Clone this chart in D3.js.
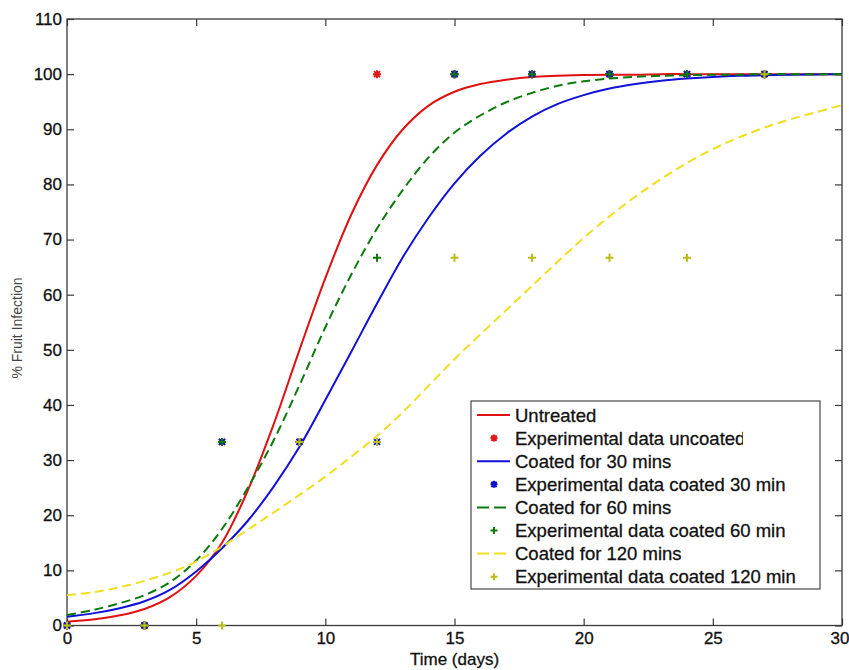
<!DOCTYPE html>
<html>
<head>
<meta charset="utf-8">
<script src="https://cdn.jsdelivr.net/npm/d3@7"></script>
<style>
  body { margin: 0; background: #fff; }
  text { font-family: "Liberation Sans", Arial, Helvetica, sans-serif; }
</style>
</head>
<body>
<svg id="chart" width="849" height="670"></svg>
<script>
// model curves, one value per day (0..30)
var days = d3.range(0, 31);
var untreated = [0.7, 1.1, 1.8, 3, 5.2, 9, 15, 24.5, 36.5, 50, 63, 74.5, 83.5, 90, 94.3, 96.8,
                 98.2, 99, 99.5, 99.7, 99.85, 99.9, 99.9, 100, 100, 100, 100, 100, 100, 100, 100];
var coated30 = [1.6, 2.2, 3.1, 4.4, 6.5, 9.8, 14, 19, 25.2, 32.4, 40.9, 49.6, 58.4, 66.8, 74, 80.2,
                85.2, 89.2, 92.3, 94.6, 96.2, 97.4, 98.2, 98.8, 99.2, 99.5, 99.7, 99.8, 99.9, 99.95, 100];
var coated60 = [1.9, 2.8, 4, 5.5, 7.9, 11.8, 17.5, 25, 33.6, 43.6, 54.1, 63.6, 72, 79, 84.9, 89.4,
                92.5, 94.9, 96.6, 97.9, 98.7, 99.2, 99.5, 99.7, 99.8, 99.9, 99.9, 100, 100, 100, 100];
var coated120 = [5.5, 6, 6.9, 8.1, 9.6, 11.6, 14.3, 17.4, 20.5, 23.7, 27, 30.6, 34.4, 38.7, 43.5, 48.3,
                 52.8, 57.2, 61.6, 66, 70.3, 74.2, 77.8, 81, 83.9, 86.4, 88.5, 90.3, 91.8, 93.1, 94.4];

// experimental observations (every 3 days)
var obsDays = [0, 3, 6, 9, 12, 15, 18, 21, 24, 27];
var obsUncoated = [0, 0, 33.3, 33.3, 100, 100, 100, 100, 100, 100];
var obs30 = [0, 0, 33.3, 33.3, 33.3, 100, 100, 100, 100, 100];
var obs60 = [0, 0, 33.3, 33.3, 66.7, 100, 100, 100, 100, 100];
var obs120 = [0, 0, 0, 33.3, 33.3, 66.7, 66.7, 66.7, 66.7, 100];

var xTicks = [0, 5, 10, 15, 20, 25, 30];
var yTicks = [0, 10, 20, 30, 40, 50, 60, 70, 80, 90, 100, 110];

var legendLabels = ['Untreated', 'Experimental data uncoated', 'Coated for 30 mins',
  'Experimental data coated 30 min', 'Coated for 60 mins', 'Experimental data coated 60 min',
  'Coated for 120 mins', 'Experimental data coated 120 min'];

var series = [
  {curve: untreated, obs: obsUncoated, line: '#e01010', dash: null, mark: '#e01818', shape: 'star'},
  {curve: coated30, obs: obs30, line: '#1010d8', dash: null, mark: '#1010c8', shape: 'star'},
  {curve: coated60, obs: obs60, line: '#0a7a0a', dash: '9,5', mark: '#0a7a0a', shape: 'plus'},
  {curve: coated120, obs: obs120, line: '#f0de20', dash: '9,5', mark: '#bcbc18', shape: 'plus'}
];

var svg = d3.select('#chart');
var x = d3.scaleLinear().domain([0, 30]).range([67, 842]);
var y = d3.scaleLinear().domain([0, 110]).range([625.5, 19]);

function markerPath(shape, r) {
  var p = 'M' + (-r) + ',0H' + r + 'M0,' + (-r) + 'V' + r;
  if (shape === 'star') {
    var q = r * 0.75;
    p += 'M' + (-q) + ',' + (-q) + 'L' + q + ',' + q + 'M' + (-q) + ',' + q + 'L' + q + ',' + (-q);
  }
  return p;
}

// axes box
var axisColor = '#3a3a3a';
svg.append('rect')
  .attr('x', x(0)).attr('y', y(110))
  .attr('width', x(30) - x(0)).attr('height', y(0) - y(110))
  .attr('fill', 'none').attr('stroke', axisColor).attr('stroke-width', 1.3);

function styleAxis(g) {
  g.select('.domain').remove();
  g.selectAll('.tick line').attr('stroke', axisColor).attr('stroke-width', 1.2);
  g.selectAll('.tick text').attr('fill', '#111').style('font-size', '17px')
    .attr('stroke', '#111').attr('stroke-width', 0.3);
}

var bottom = svg.append('g').attr('transform', 'translate(0,' + y(0) + ')')
  .call(d3.axisBottom(x).tickValues(xTicks).tickSize(-7).tickPadding(6).tickFormat(d3.format('d')))
  .call(styleAxis);
// last label sits against the window edge
bottom.selectAll('.tick text').filter(function (d) { return d === 30; })
  .attr('text-anchor', 'end').attr('x', 849 - x(30));

svg.append('g').attr('transform', 'translate(0,' + y(110) + ')')
  .call(d3.axisTop(x).tickValues(xTicks).tickSize(-7).tickFormat(''))
  .call(styleAxis);
svg.append('g').attr('transform', 'translate(' + x(0) + ',0)')
  .call(d3.axisLeft(y).tickValues(yTicks).tickSize(-7).tickPadding(5).tickFormat(d3.format('d')))
  .call(styleAxis);
svg.append('g').attr('transform', 'translate(' + x(30) + ',0)')
  .call(d3.axisRight(y).tickValues(yTicks).tickSize(-7).tickFormat(''))
  .call(styleAxis);

// axis titles
svg.append('text')
  .attr('x', (x(0) + x(30)) / 2).attr('y', 665)
  .attr('text-anchor', 'middle').style('font-size', '17px').attr('fill', '#111')
  .attr('stroke', '#111').attr('stroke-width', 0.3)
  .text('Time (days)');
svg.append('text')
  .attr('transform', 'translate(22,' + 328 + ') rotate(-90)')
  .attr('text-anchor', 'middle').style('font-size', '14px').attr('fill', '#444')
  .text('% Fruit Infection');

// curves and points
var plot = svg.append('g');
var line = d3.line()
  .x(function (d, i) { return x(days[i]); })
  .y(function (d) { return y(d); })
  .curve(d3.curveCatmullRom.alpha(0.5));

series.forEach(function (s) {
  plot.append('path')
    .attr('d', line(s.curve))
    .attr('fill', 'none')
    .attr('stroke', s.line)
    .attr('stroke-width', 2)
    .attr('stroke-dasharray', s.dash);

  plot.selectAll(null).data(s.obs).enter().append('path')
    .attr('transform', function (d, i) { return 'translate(' + x(obsDays[i]) + ',' + y(d) + ')'; })
    .attr('d', markerPath(s.shape, 4))
    .attr('fill', 'none')
    .attr('stroke', s.mark)
    .attr('stroke-width', 2);
});

// legend
var lg = svg.append('g');
lg.append('rect')
  .attr('x', 471).attr('y', 401).attr('width', 349).attr('height', 188)
  .attr('fill', '#fff').attr('stroke', '#555').attr('stroke-width', 1.3);

lg.append('clipPath').attr('id', 'lgclip')
  .append('rect').attr('x', 471).attr('y', 401).attr('width', 272).attr('height', 188);

legendLabels.forEach(function (label, i) {
  var s = series[Math.floor(i / 2)];
  var cy = 415 + i * 23.1;
  if (i % 2 === 0) {
    lg.append('line')
      .attr('x1', 477).attr('x2', 510).attr('y1', cy).attr('y2', cy)
      .attr('stroke', s.line).attr('stroke-width', 2)
      .attr('stroke-dasharray', s.dash ? '12,5' : null);
  } else {
    lg.append('path')
      .attr('transform', 'translate(494,' + cy + ')')
      .attr('d', markerPath(s.shape, 3.5))
      .attr('fill', 'none').attr('stroke', s.mark).attr('stroke-width', 2);
  }
  lg.append('text')
    .attr('x', 515).attr('y', cy).attr('dy', '0.36em')
    .style('font-size', '18.5px').attr('fill', '#111')
    .attr('stroke', '#111').attr('stroke-width', 0.3)
    .attr('clip-path', i === 1 ? 'url(#lgclip)' : null)
    .text(label);
});
</script>
</body>
</html>
